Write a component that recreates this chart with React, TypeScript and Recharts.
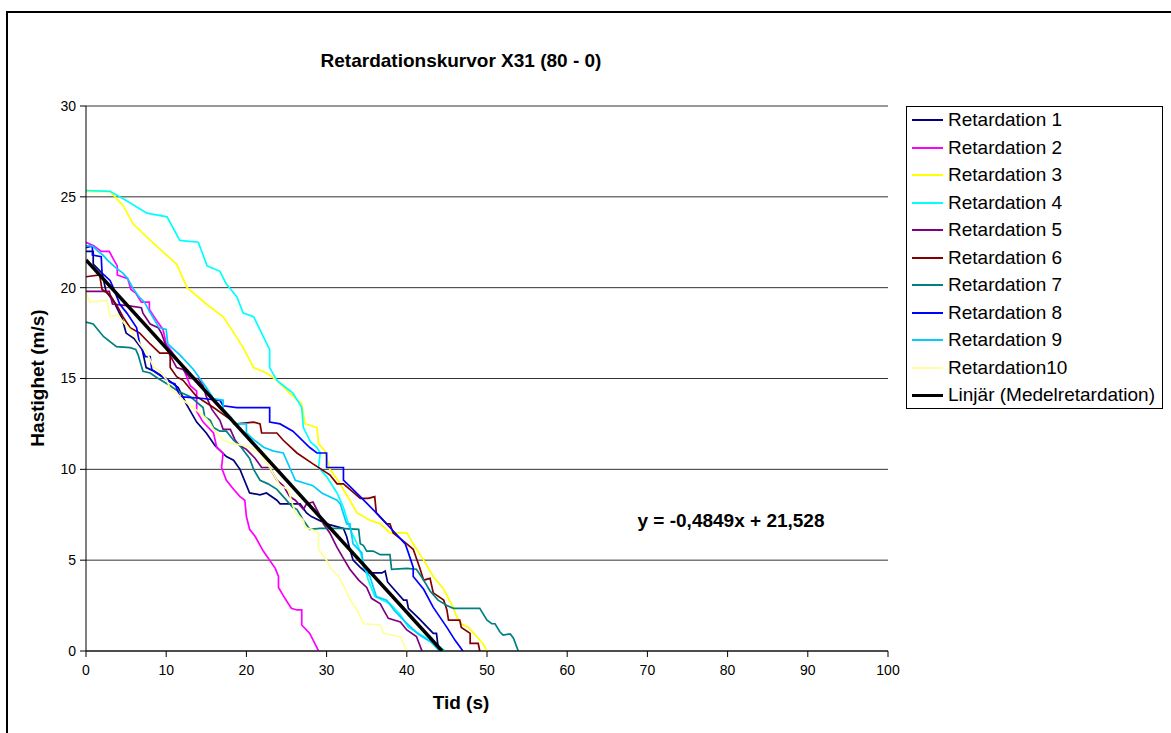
import { CartesianGrid, Line, LineChart, XAxis, YAxis } from "recharts";

const FONT = "Arial, 'Liberation Sans', sans-serif";

const xTicks = [0, 10, 20, 30, 40, 50, 60, 70, 80, 90, 100];
const yTicks = [0, 5, 10, 15, 20, 25, 30];

// [tid (s), hastighet (m/s)]
const ret1 = [
  [0, 22.0], [0.9, 22.0], [0.9, 21.3], [2.0, 20.8], [2.5, 19.8], [3.5, 19.2], [4.5, 18.3],
  [5.0, 17.5], [6.0, 17.2], [7.0, 16.6], [7.5, 15.6], [8.5, 15.4], [10, 15.0], [11.5, 14.5],
  [12.5, 13.6], [13.8, 12.6], [15, 12.0], [16.1, 11.3], [17.5, 10.7], [18.4, 10.5], [19.2, 10.0],
  [20.4, 8.7], [21.7, 8.6], [22.5, 8.7], [23.8, 8.3], [24.2, 8.1], [26.7, 8.1], [27.5, 7.6],
  [28.1, 7.4], [30.0, 7.0], [32.1, 6.75], [32.5, 6.3], [32.9, 5.6], [33.3, 5.0], [34.2, 4.6],
  [35.0, 4.3], [36.9, 4.3], [37.3, 4.4], [37.6, 3.8], [39.6, 2.8], [40.0, 2.8], [40.2, 2.35],
  [41.5, 1.8], [43.3, 0.97], [43.7, 0.97], [43.9, 0.24], [44.0, 0],
];
const ret2 = [
  [0, 22.5], [1, 22.3], [1.9, 22.0], [2.9, 22.0], [3.5, 21.5], [3.9, 21.2], [3.9, 20.7],
  [5.2, 20.5], [5.6, 19.9], [6.2, 19.7], [6.9, 19.2], [7.9, 19.2], [7.9, 18.8], [8.8, 18.2],
  [9.6, 17.7], [10, 16.9], [11, 16.3], [12, 15.7], [13, 14.6], [13.8, 14.3], [13.8, 13.2],
  [14.6, 12.6], [15.9, 12.0], [16.3, 11.2], [17.1, 10.9], [16.9, 10.1], [17.5, 9.4], [18.4, 8.9],
  [19.2, 8.5], [19.8, 8.3], [20.0, 7.4], [20.4, 6.7], [21.1, 6.3], [22.1, 5.5], [22.9, 5.0],
  [23.6, 4.55], [24.0, 4.1], [24.0, 3.5], [24.8, 2.9], [25.6, 2.35], [26.3, 2.26], [26.9, 2.26],
  [26.9, 1.43], [27.9, 0.97], [29.0, 0],
];
const ret3 = [
  [0, 25.3], [3.0, 25.3], [4.65, 24.5], [5.9, 23.5], [8.0, 22.6], [11.3, 21.3], [12.6, 20.0],
  [15.0, 19.1], [17.1, 18.4], [18.0, 17.8], [19.6, 16.7], [20.9, 15.6], [22.5, 15.3], [23.8, 14.9],
  [25.4, 14.2], [26.9, 13.6], [27.3, 12.5], [28.8, 12.3], [29.0, 11.4], [29.8, 11.0], [30.4, 10.0],
  [31.4, 9.4], [32.9, 8.3], [33.8, 7.6], [35.4, 7.2], [36.7, 7.0], [37.9, 6.5], [40.0, 6.5],
  [40.8, 5.9], [42.1, 5.0], [43.3, 4.1], [44.6, 3.4], [45.8, 2.4], [46.2, 1.9], [46.8, 1.5],
  [47.7, 1.3], [48.7, 0.8], [49.5, 0.4], [50.0, 0],
];
const ret4 = [
  [0, 25.35], [3.0, 25.3], [5.0, 24.8], [7.6, 24.1], [10.1, 23.9], [11.7, 22.6], [14.0, 22.5],
  [15.1, 21.2], [16.7, 20.9], [17.5, 20.2], [18.8, 19.5], [19.6, 18.6], [20.9, 18.4], [22.0, 17.4],
  [22.9, 16.6], [22.9, 15.6], [23.8, 14.9], [25.8, 14.2], [26.9, 13.4], [27.1, 12.3], [28.0, 11.5],
  [28.8, 11.2], [29.2, 10.9], [29.0, 10.1], [30.0, 9.6], [31.3, 8.7], [32.1, 7.9], [32.9, 6.75],
  [34.0, 5.7], [34.8, 4.6], [35.2, 3.9], [36.0, 3.0], [37.9, 2.6], [39.2, 2.0], [40.2, 1.3],
  [42.9, 0.6], [44.8, 0],
];
const ret5 = [
  [0, 19.8], [2.9, 19.8], [3.3, 19.1], [5.4, 19.0], [6.9, 18.9], [7.1, 18.6], [8.0, 18.0],
  [9.0, 17.8], [9.4, 17.5], [10.2, 16.5], [11.3, 15.6], [12.1, 15.5], [13.0, 15.0], [14.0, 15.0],
  [14.6, 14.6], [15.0, 14.0], [15.7, 13.3], [16.7, 12.7], [17.1, 12.2], [18.0, 12.2], [18.6, 11.6],
  [19.2, 11.3], [20.0, 11.1], [21.1, 10.6], [21.9, 10.1], [22.9, 10.1], [23.8, 9.4], [24.6, 9.1],
  [25.4, 8.5], [26.1, 8.3], [27.1, 7.8], [27.5, 8.1], [28.3, 8.2], [29.0, 7.6], [29.6, 7.0],
  [30.4, 6.5], [31.3, 5.7], [32.1, 5.1], [32.9, 4.5], [34.0, 3.9], [35.0, 3.5], [35.6, 2.9],
  [36.7, 2.6], [37.1, 2.26], [37.7, 1.8], [39.2, 1.6], [40.0, 1.16], [41.2, 0.8], [41.9, 0],
];
const ret6 = [
  [0, 20.6], [1.7, 20.7], [2.0, 19.9], [3.0, 19.6], [4.0, 18.9], [4.6, 18.4], [5.5, 17.8],
  [6.7, 17.5], [8.0, 16.9], [9.2, 16.4], [10.5, 16.4], [10.5, 15.6], [11.3, 15.1], [12.1, 14.9],
  [13.8, 14.0], [15.9, 13.4], [17.5, 12.9], [18.8, 12.5], [20.9, 12.6], [21.7, 12.5], [21.9, 12.0],
  [23.8, 12.0], [24.6, 11.6], [26.3, 10.9], [28.3, 10.3], [30.4, 9.7], [31.3, 9.2], [32.1, 9.2],
  [32.9, 8.9], [34.2, 8.4], [35.2, 8.4], [36.0, 8.5], [36.2, 7.6], [37.5, 7.0], [37.9, 7.0],
  [38.3, 6.5], [40.0, 5.9], [40.8, 5.6], [41.6, 4.6], [42.1, 3.9], [42.9, 4.0], [43.3, 3.2],
  [44.6, 2.8], [45.0, 2.26], [45.2, 1.7], [46.6, 1.7], [46.8, 1.3], [47.9, 0.97], [47.9, 0.42],
  [48.9, 0.42], [49.1, 0],
];
const ret7 = [
  [0, 18.1], [0.9, 18.0], [2.2, 17.3], [3.8, 16.75], [5.5, 16.7], [6.2, 16.6], [6.5, 16.3],
  [6.9, 15.7], [7.1, 15.4], [8.0, 15.3], [9.0, 15.0], [10.5, 14.6], [11.5, 14.3], [13.0, 14.0],
  [14.6, 13.4], [14.8, 12.9], [15.5, 12.7], [15.9, 12.3], [16.7, 12.1], [17.5, 12.1], [18.4, 11.6],
  [19.2, 11.3], [20.4, 10.6], [20.9, 10.0], [21.7, 9.4], [22.7, 9.2], [23.8, 8.9], [24.6, 8.5],
  [25.8, 7.9], [26.3, 7.8], [27.1, 7.2], [27.9, 6.7], [29.2, 6.75], [31.7, 6.75], [34.0, 6.7],
  [34.2, 5.9], [34.6, 5.8], [35.0, 5.5], [35.8, 5.5], [36.7, 5.3], [37.9, 5.3], [38.1, 4.5],
  [40.0, 4.55], [41.2, 4.5], [42.1, 3.9], [42.9, 3.3], [43.9, 2.8], [45.0, 2.5], [45.8, 2.35],
  [49.1, 2.35], [50.0, 1.7], [50.6, 1.5], [51.0, 1.5], [51.6, 1.06], [52.0, 0.88], [52.9, 0.94],
  [53.3, 0.7], [53.9, 0],
];
const ret8 = [
  [0, 22.2], [0.8, 22.3], [0.8, 21.8], [1.9, 21.7], [2.0, 20.8], [3.0, 20.4], [3.4, 20.0],
  [4.2, 19.1], [5.1, 18.6], [6.3, 17.8], [6.7, 16.9], [7.4, 16.2], [8.0, 16.2], [8.2, 15.5],
  [8.8, 15.3], [10.5, 14.8], [11.1, 14.7], [11.7, 14.0], [14.6, 13.9], [16.7, 13.8], [17.1, 13.5],
  [18.8, 13.4], [22.9, 13.4], [22.9, 12.6], [24.2, 12.5], [25.8, 12.1], [27.9, 11.2], [28.8, 10.9],
  [30.0, 10.9], [30.0, 10.1], [32.1, 10.1], [32.1, 9.4], [34.2, 8.5], [36.2, 7.6], [37.9, 6.8],
  [39.8, 5.9], [40.2, 5.4], [40.8, 4.6], [40.8, 4.1], [42.1, 3.4], [43.3, 2.4], [45.0, 1.3],
  [46.0, 0.6], [47.0, 0],
];
const ret9 = [
  [0, 22.3], [0.8, 22.3], [1.5, 22.0], [2.1, 21.8], [2.7, 21.5], [3.7, 21.1], [4.6, 20.8],
  [5.2, 20.5], [5.8, 20.0], [6.6, 19.5], [7.3, 19.2], [7.9, 18.7], [9.1, 17.8], [10.0, 17.7],
  [10.2, 16.9], [11.7, 16.3], [13.4, 15.5], [15.0, 14.5], [15.9, 13.9], [17.1, 13.8], [17.1, 13.3],
  [18.2, 12.8], [18.4, 12.5], [20.0, 12.5], [20.0, 12.0], [21.0, 11.6], [22.2, 11.2], [23.4, 11.0],
  [24.6, 10.9], [26.1, 9.4], [28.3, 9.1], [29.4, 8.7], [31.3, 8.3], [31.7, 8.1], [32.5, 7.0],
  [32.9, 7.0], [33.3, 5.9], [34.4, 5.4], [34.6, 4.6], [35.4, 4.1], [36.2, 3.0], [37.5, 2.8],
  [38.5, 2.2], [39.8, 1.6], [41.5, 0.9], [43.0, 0.5], [44.1, 0],
];
const ret10 = [
  [0, 19.7], [0.5, 19.2], [2.6, 19.3], [3.0, 18.4], [4.0, 18.5], [4.65, 18.1], [5.5, 17.7],
  [6.7, 16.9], [7.6, 16.4], [8.4, 15.65], [9.2, 15.4], [10.1, 14.9], [10.5, 14.4], [11.3, 14.2],
  [12.1, 13.8], [13.4, 13.4], [14.2, 13.1], [15.0, 12.8], [15.5, 12.5], [15.9, 12.2], [17.1, 11.6],
  [18.4, 11.4], [20.0, 11.3], [21.7, 10.9], [22.9, 10.1], [24.2, 9.1], [25.2, 8.9], [25.6, 8.3],
  [26.1, 7.6], [27.1, 7.2], [27.3, 6.8], [28.1, 6.7], [29.0, 6.5], [29.0, 5.6], [30.0, 5.0],
  [30.4, 4.6], [31.5, 4.1], [32.3, 3.45], [32.9, 2.85], [33.8, 2.26], [34.6, 1.5], [36.7, 1.43],
  [37.1, 0.97], [39.2, 0.79], [40.0, 0],
];
const trend = [[0, 21.528], [44.4, 0]];

const series = [
  { name: "Retardation 1", color: "#000080", data: ret1 },
  { name: "Retardation 2", color: "#FF00FF", data: ret2 },
  { name: "Retardation 3", color: "#FFFF00", data: ret3 },
  { name: "Retardation 4", color: "#00FFFF", data: ret4 },
  { name: "Retardation 5", color: "#800080", data: ret5 },
  { name: "Retardation 6", color: "#800000", data: ret6 },
  { name: "Retardation 7", color: "#008080", data: ret7 },
  { name: "Retardation 8", color: "#0000FF", data: ret8 },
  { name: "Retardation 9", color: "#00CCFF", data: ret9 },
  { name: "Retardation10", color: "#FFFF99", data: ret10 },
];

const pts = (arr: number[][]) => arr.map(([t, v]) => ({ t, v }));

export default function App() {
  const txt = { position: "absolute" as const, fontFamily: FONT, color: "#000", whiteSpace: "nowrap" as const };
  return (
    <div style={{ position: "absolute", left: 0, top: 0, width: 1171, height: 733, overflow: "hidden", background: "#fff" }}>
      <div style={{ position: "absolute", left: 6, top: 11, width: 1300, height: 900, borderLeft: "2px solid #000", borderTop: "2px solid #000" }} />
      <div style={{ position: "absolute", left: 0, top: 0 }}>
        <LineChart width={1171} height={733} margin={{ top: 106, right: 283, bottom: 32, left: 26 }}>
          <CartesianGrid vertical={false} stroke="#333" horizontalValues={yTicks} />
          <XAxis
            dataKey="t"
            type="number"
            domain={[0, 100]}
            ticks={xTicks}
            height={50}
            tickSize={6}
            tickMargin={8}
            stroke="#000"
            tick={{ fontSize: 14, fill: "#000", fontFamily: FONT }}
            allowDataOverflow
          />
          <YAxis
            dataKey="v"
            type="number"
            domain={[0, 30]}
            ticks={yTicks}
            width={60}
            tickSize={6}
            tickMargin={4}
            stroke="#000"
            tick={{ fontSize: 14, fill: "#000", fontFamily: FONT }}
            allowDataOverflow
          />
          {series.map((s) => (
            <Line
              key={s.name}
              data={pts(s.data)}
              dataKey="v"
              name={s.name}
              type="linear"
              stroke={s.color}
              strokeWidth={1.7}
              dot={false}
              isAnimationActive={false}
            />
          ))}
          <Line
            data={pts(trend)}
            dataKey="v"
            name="Linjär (Medelretardation)"
            type="linear"
            stroke="#000"
            strokeWidth={3.5}
            dot={false}
            isAnimationActive={false}
          />
        </LineChart>
      </div>
      <div style={{ ...txt, left: 461, top: 61, transform: "translate(-50%,-50%)", fontSize: 19, fontWeight: "bold" }}>
        Retardationskurvor X31 (80 - 0)
      </div>
      <div style={{ ...txt, left: 461, top: 703, transform: "translate(-50%,-50%)", fontSize: 19, fontWeight: "bold" }}>
        Tid (s)
      </div>
      <div style={{ ...txt, left: 38, top: 378, transform: "translate(-50%,-50%) rotate(-90deg)", fontSize: 19, fontWeight: "bold" }}>
        Hastighet (m/s)
      </div>
      <div style={{ ...txt, left: 731, top: 521, transform: "translate(-50%,-50%)", fontSize: 19, fontWeight: "bold" }}>
        y = -0,4849x + 21,528
      </div>
      <div style={{ position: "absolute", left: 906, top: 106, width: 257, height: 303, border: "1px solid #000", boxSizing: "border-box" }}>
        {[...series, { name: "Linjär (Medelretardation)", color: "#000", data: trend }].map((s, i) => (
          <div key={s.name} style={{ position: "absolute", left: 5, top: 13 + i * 27.5, transform: "translateY(-50%)", display: "flex", alignItems: "center" }}>
            <div style={{ width: 31, height: i === 10 ? 3 : 2, background: s.color }} />
            <span style={{ fontFamily: FONT, fontSize: 19, marginLeft: 5, whiteSpace: "nowrap" }}>{s.name}</span>
          </div>
        ))}
      </div>
    </div>
  );
}
